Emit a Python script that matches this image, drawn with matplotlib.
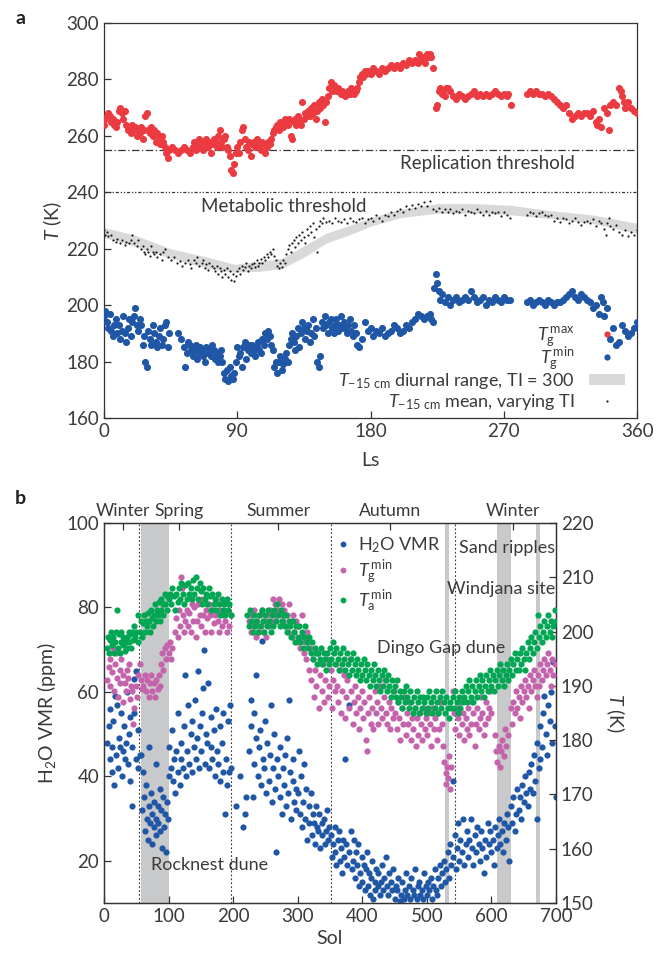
import numpy as np
import matplotlib
matplotlib.use("Agg")
import matplotlib.pyplot as plt
from matplotlib.patches import Patch
from matplotlib.lines import Line2D

plt.rcParams['font.family'] = ['Lato', 'DejaVu Sans']
plt.rcParams['mathtext.fontset'] = 'custom'
plt.rcParams['mathtext.rm'] = 'Lato'
plt.rcParams['mathtext.it'] = 'Lato:italic'
plt.rcParams['mathtext.bf'] = 'Lato:bold'
plt.rcParams['axes.unicode_minus'] = True

TXT = '#3a3a3a'
FS = 13

# ---------------- Panel a data (Ls, T in K) ----------------
tg_max_pts = [
    (0,264),(1,266),(2,267),(3,268),(4,267),(5,265),(6,266),(7,264),(8,263),(9,265),
    (10,269),(11,270),(12,268),(13,266),(14,269),(15,264),(16,262),(17,263),(18,261),(19,264),
    (20,262),(21,263),(22,260),(23,262),(24,261),(25,263),(26,259),(27,262),(28,267),(29,268),
    (30,262),(31,261),(32,263),(33,260),(34,262),(35,258),(36,261),(37,259),(38,257),(39,260),
    (40,258),(41,256),(42,254),(43,252),(44,255),(46,256),(48,255),(50,254),(52,255),(54,256),
    (56,255),(58,254),(60,256),(61,258),(62,255),(63,257),(64,259),(65,256),(66,258),(67,255),
    (68,257),(69,259),(70,256),(71,258),(72,254),(73,257),(74,259),(75,258),(76,256),(77,260),
    (78,262),(79,258),(80,256),(81,259),(82,260),(83,256),(84,255),(85,253),(86,248),(87,247),
    (88,250),(89,254),(90,256),(91,254),(92,258),(93,262),(94,263),(95,259),(96,256),(97,255),
    (98,258),(99,253),(100,257),(101,258),(102,256),(103,259),(104,258),(105,257),(106,255),(107,258),
    (108,257),(109,254),(110,256),(111,258),(112,257),(113,259),(114,261),(115,262),(116,263),(117,264),
    (118,262),(119,265),(120,264),(121,263),(122,266),(123,265),(124,264),(125,266),(126,260),(127,259),
    (128,265),(129,266),(130,264),(131,267),(132,266),(133,264),(134,272),(135,266),(136,268),(137,267),
    (138,269),(139,267),(140,270),(141,268),(142,271),(143,266),(144,269),(145,272),(146,270),(147,273),
    (148,271),(149,265),(150,272),(151,274),(152,277),(153,279),(154,276),(155,278),(156,277),(157,276),
    (158,277),(159,276),(160,275),(161,276),(162,275),(163,274),(164,275),(165,276),(166,275),(167,277),
    (168,276),(169,275),(170,276),(171,277),(172,279),(173,281),(174,282),(175,281),(176,283),(177,282),
    (178,283),(180,282),(182,284),(184,283),(186,282),(188,284),(190,283),(192,284),(194,285),(196,284),
    (198,285),(200,284),(202,286),(204,285),(206,287),(208,286),(210,287),(212,286),(213,289),(214,288),
    (215,287),(216,288),(217,286),(218,289),(219,288),(220,289),(221,288),(222,284),(224,270),(225,271),
    (226,276),(227,277),(228,275),(229,276),(230,274),(231,277),(232,277),(234,276),(236,274),(238,273),
    (240,275),(242,274),(244,273),(246,274),(248,275),(250,276),(252,274),(254,275),(256,274),(258,275),
    (260,274),(262,275),(264,276),(266,275),(268,274),(270,275),(272,274),(273,275),(275,271),(286,275),
    (288,276),(290,275),(292,276),(294,275),(296,275),(298,274),(300,275),(302,274),(304,273),(306,272),
    (308,271),(310,270),(312,271),(314,268),(316,266),(318,267),(320,268),(322,267),(324,268),(326,268),
    (328,267),(330,269),(332,265),(333,264),(334,266),(336,263),(338,270),(340,268),(341,262),(342,271),
    (344,272),(346,271),(348,277),(349,276),(350,274),(351,272),(352,270),(354,272),(356,270),(358,269),(360,268),
]

tg_min_pts = [
    (0,196),(1,198),(2,194),(3,192),(4,197),(5,191),(6,189),(7,193),(8,195),(9,190),
    (10,193),(11,188),(12,191),(13,196),(14,190),(15,187),(16,192),(17,195),(18,189),(19,194),
    (20,196),(21,199),(22,193),(23,191),(24,195),(25,193),(26,186),(27,189),(28,180),(29,178),
    (30,191),(31,188),(32,186),(33,193),(34,190),(35,187),(36,185),(37,189),(38,192),(39,186),
    (40,188),(41,193),(42,194),(43,185),(44,190),(50,190),(52,188),(54,185),(55,178),(56,183),
    (57,187),(58,186),(59,184),(60,182),(61,184),(62,186),(63,181),(64,183),(65,185),(66,184),
    (67,182),(68,180),(69,185),(70,183),(71,184),(72,182),(73,186),(74,184),(75,181),(76,183),
    (77,180),(78,182),(79,184),(80,180),(81,176),(82,174),(83,177),(84,173),(85,178),(86,175),
    (87,174),(88,176),(89,180),(90,185),(91,182),(92,183),(93,178),(94,185),(95,187),(96,181),
    (97,184),(98,186),(99,183),(100,186),(101,184),(102,182),(103,185),(104,187),(105,184),(106,183),
    (107,188),(108,186),(109,190),(110,188),(111,191),(112,189),(113,186),(114,184),(115,178),(116,180),
    (117,176),(118,180),(119,182),(120,177),(121,179),(122,181),(123,183),(124,180),(125,186),(126,188),
    (127,190),(128,187),(129,184),(130,189),(131,192),(132,185),(133,190),(134,194),(135,192),(136,188),
    (137,191),(138,193),(139,187),(140,190),(141,195),(142,189),(143,192),(144,180),(145,178),(146,182),
    (147,194),(148,192),(149,196),(150,193),(151,190),(152,194),(153,195),(154,192),(155,190),(156,193),
    (157,195),(158,191),(159,193),(160,196),(161,192),(162,194),(163,192),(164,190),(165,193),(166,195),
    (167,191),(168,189),(169,193),(170,190),(171,186),(172,185),(174,188),(176,194),(178,191),(180,192),
    (182,189),(184,191),(186,190),(188,192),(190,189),(192,190),(194,191),(196,193),(198,192),(200,190),
    (202,191),(204,193),(206,192),(208,194),(210,195),(212,197),(214,196),(216,195),(218,196),(220,197),
    (221,195),(222,194),(223,206),(224,211),(225,208),(226,205),(227,202),(228,204),(230,201),(232,203),
    (234,200),(236,202),(238,203),(240,201),(242,202),(244,203),(246,202),(248,205),(250,203),(252,201),
    (254,202),(256,203),(258,200),(260,202),(262,201),(264,203),(266,202),(268,201),(270,203),(272,202),
    (274,202),(286,201),(288,202),(290,200),(292,201),(294,202),(296,201),(298,200),(300,202),(302,201),
    (304,200),(306,201),(308,201),(310,202),(312,203),(314,204),(316,205),(318,203),(320,202),(322,204),
    (324,203),(326,202),(328,201),(330,199),(332,200),(334,197),(336,203),(337,201),(338,196),(340,199),
    (342,188),(344,192),(346,186),(348,187),(350,193),(352,191),(354,189),(356,190),(358,192),(360,194),
]

t15_mean_pts = [
    (0,226.5),(1,225),(2,226),(3,224.5),(5,225),(6,223),(8,222.5),(9,223.5),(11,222),(12,223),
    (14,221.5),(15,222.5),(17,222),(18,223),(19,225),(20,222),(22,221),(23,223),(25,220),(26,221),
    (27,219),(28,218),(29,220),(30,219),(31,217.5),(32,221),(33,219),(34,218),(35,219),(36,217),
    (38,218),(39,216),(40,219),(41,220),(43,217),(45,216),(47,217),(49,215),(51,215.5),(53,214),
    (55,215),(57,216),(58,214.5),(59,213),(61,216),(62,215),(63,217),(64,214),(66,215),(67,216),
    (68,213),(69,214.5),(70,212.5),(71,215),(73,214),(74,213),(75,212),(76,214),(77,211),(78,213),
    (79,212),(80,210),(81,212.5),(82,211),(83,213),(84,210),(85,212),(86,209),(87,211),(88,208.5),
    (89,210.5),(90,212),(91,213),(92,211),(93,214),(94,212.5),(95,213.5),(96,215),(97,212),(98,214),
    (99,213),(100,214.5),(101,215),(102,213.5),(103,216),(104,214),(105,215),(106,216.5),(107,215),(108,217),
    (109,216),(110,218),(111,217),(112,219),(113,218),(114,220),(115,217.5),(116,216),(117,214),(118,213),
    (119,215),(120,213.5),(121,216),(122,215),(123,218),(124,220),(125,221.5),(126,219),(127,222),(128,223),
    (129,220.5),(130,224),(131,222),(132,225),(133,223),(134,226),(135,224),(136,222),(137,227),(138,225),
    (139,228),(140,226),(141,229),(142,224),(143,227),(144,219),(145,228),(146,230),(147,229),(148,231),
    (150,229.5),(152,230),(154,229),(156,231),(158,230),(160,229.5),(162,230.5),(164,229),(166,231),(168,230),
    (170,229.5),(172,230.5),(174,231),(176,229),(178,230.5),(180,231),(182,230),(184,232),(186,231),(188,230),
    (190,232),(192,231.5),(194,233),(196,232),(198,233.5),(200,234),(202,233),(204,235),(206,234),(208,235.5),
    (210,234.5),(212,236),(214,235),(216,236.5),(218,235),(220,237),(222,234),(224,233.5),(226,234.5),(228,233),
    (230,234),(232,233),(234,234),(236,232.5),(238,233.5),(240,233),(242,234),(244,232),(246,233.5),(248,233),
    (250,232.5),(252,234),(254,233),(256,232),(258,233.5),(260,232),(262,233),(264,232.5),(266,233),(268,231.5),
    (270,233),(272,232),(274,231),(286,232),(288,233),(290,232.5),(292,231.5),(294,232.5),(296,233),(298,232),
    (300,231.5),(302,232),(304,230),(306,231),(308,229.5),(310,231),(312,230.5),(314,229),(316,230),(318,231),
    (320,229.5),(322,228.5),(324,229.5),(326,230),(328,229),(330,230.5),(332,228),(334,230),(336,229),(338,227),
    (339,225),(340,229),(341,231),(342,228),(344,227),(346,228.5),(348,226),(350,225),(352,226.5),(354,224.5),
    (356,226),(358,225),(360,226.5),
]

# diurnal range band (Ls, lower, upper)
band_ls = [0, 20, 45, 70, 88, 105, 120, 135, 150, 170, 180, 200, 225, 250, 275, 300, 330, 360]
band_lo = [224, 221, 216.6, 213, 211.7, 212, 213, 217, 222, 225.8, 228, 231, 232.6, 232.6, 232, 230.8, 229, 225.5]
band_hi = [227.5, 225, 220, 217, 214.5, 215.5, 216.6, 221, 225.5, 229, 231, 234, 236, 236, 235.4, 233.6, 232, 229]

# ---------------- Panel b data (Sol) ----------------
h2o_pts = [
    (5,48),(7,52),(9,44),(10,56),(12,47),(13,41),(14,53),(16,38),(17,59),(19,45),(20,57),(22,42),(23,49),
    (25,47),(26,55),(28,40),(29,46),(31,52),(32,44),(34,48),(35,60),(37,43),(38,50),(40,54),(41,39),(43,33),
    (44,47),(46,55),(47,63),(49,44),(50,65),(52,51),(53,42),(55,45),
    (57,45),(59,32),(60,41),(62,35),(63,27),(65,38),(66,30),(68,25),(69,33),(70,47),(71,29),(72,36),(74,31),
    (75,24),(77,28),(78,34),(80,30),(80,43),(81,26),(83,33),(84,29),(86,37),(87,27),(89,32),(90,23),(92,35),
    (93,28),(95,31),(96,22),(98,34),(99,30),(100,40),
    (101,47),(103,42),(105,51),(107,39),(108,44),(110,36),(112,46),(114,41),(115,55),(117,38),(119,44),
    (120,48),(122,42),(124,52),(125,64),(127,40),(129,46),(130,57),(132,43),(134,50),(136,41),(137,53),
    (139,47),(141,58),(142,44),(144,49),(145,65),(147,42),(149,52),(150,46),(152,55),(153,61),(155,70),
    (156,43),(158,50),(160,48),(161,62),(163,42),(165,54),(166,47),(168,44),(170,51),(172,40),(173,56),
    (175,46),(177,43),(179,52),(180,39),(182,48),(184,55),(185,41),(187,31),(189,44),(190,38),(192,53),
    (194,41),(195,57),(197,42),
    (205,33),(210,40),(215,28),(218,31),(220,35),
    (225,46),(227,58),(228,52),(230,35),(232,55),(233,43),(235,64),(236,49),(238,40),(240,47),(242,51),
    (243,38),(245,72),(246,44),(248,42),(250,53),(251,36),(253,48),(255,39),(257,45),(258,57),(260,34),
    (262,42),(263,50),(265,37),(267,22),(268,44),(270,40),(272,35),(273,47),(275,31),(277,42),(278,38),
    (280,45),(282,33),(283,49),(285,36),(287,58),(288,41),(290,30),(292,39),(293,44),(295,34),(297,37),(298,32),
    (300,36),(302,46),(303,31),(305,40),(307,28),(308,34),(310,43),(312,30),(313,37),(315,25),(317,33),
    (318,29),(320,36),(322,26),(323,31),(325,29),(327,24),(328,33),(330,28),(332,27),(333,31),(335,23),
    (337,29),(338,26),(340,30),(342,24),(344,27),(345,32),(347,25),(349,28),
    (351,26),(353,21),(355,24),(357,28),(358,22),(360,19),(362,25),(364,27),(365,20),(367,23),(369,17),
    (370,25),(372,21),(374,44),(375,24),(377,19),(379,57),(380,22),(382,27),(384,18),(385,20),(387,25),
    (389,16),(390,22),(392,19),(394,24),(395,14),(397,17),(399,21),(400,15),(402,19),(404,13),(405,18),
    (407,22),(409,14),(410,17),(412,12),(414,16),(415,20),(417,11),(419,15),(420,13),(422,18),(424,14),
    (425,17),(427,12),(429,15),(430,19),(432,13),(434,16),(436,21),(438,14),(440,12),(442,17),(444,15),
    (446,13),(448,18),
    (450,11),(452,14),(454,13),(456,16),(458,10.5),(460,12),(462,15),(464,11),(466,13),(468,17),(470,12),
    (472,14),(474,11),(476,16),(478,13),(480,12),(482,18),(484,11),(486,14),(488,15),(490,12),(492,13),
    (494,11),(496,17),(498,14),(500,12),(502,15),(504,13),(506,16),(508,11),(510,14),(512,18),(514,13),
    (516,12),(518,16),(520,19),(522,14),(524,17),(526,20),(528,15),
    (530,18),(532,22),(534,16),(536,24),(538,19),(540,39),(541,21),(543,26),(545,18),(547,23),(549,29),
    (550,20),(552,25),(554,22),(556,30),(558,19),(560,24),(562,27),(564,21),(566,25),(568,30),(570,23),
    (572,19),(574,26),(576,22),(578,28),(580,24),(582,20),(584,27),(586,23),(588,17),(590,25),(592,21),
    (594,29),(596,24),(598,27),(600,22),(602,25),(604,19),(606,28),(608,23),(610,26),(612,30),(614,24),
    (616,27),(618,22),(620,29),
    (622,25),(624,31),(626,28),(628,20),(630,33),(632,29),(634,35),(636,27),(638,31),(640,37),(642,32),
    (644,35),(646,30),(648,38),(650,34),(652,40),(654,36),(656,33),(658,41),(660,37),(662,43),(664,36),
    (666,45),(668,39),(670,48),(671,30),(673,42),(675,52),(676,44),(678,47),(680,55),(682,59),(684,50),
    (686,45),(688,57),(690,53),(692,60),(694,48),(696,67),(698,52),(700,35),
]

tgmin_b_pts = [
    (5,191),(7,193.5),(9,190),(10,195),(12,192.5),(14,197),(15,189),(17,194),(19,196),(20,191.5),(22,188),
    (24,193),(25,190.5),(27,195),(29,192),(30,187),(32,190.5),(34,189),(35,193),(37,191.5),(39,194),(40,187.5),
    (42,190),(44,189),(45,183),(47,186),(49,190),(51,188),(53,192),
    (55,194),(57,191),(59,189.5),(61,190),(63,192),(65,189),(67,191),(69,188),(71,190.5),(73,192),(75,189),
    (77,190.5),(79,188),(81,191),(83,189.5),(85,192),(87,190),(89,194),(90,196),(92,193),(94,197),(96,195),
    (98,197.5),(100,196),(102,198),(104,195),(106,197),
    (110,200),(112,202.5),(114,199),(116,204),(118,201),(120,210),(121,208),(122,203),(124,200),(126,202),
    (128,204),(130,201),(132,203.5),(134,200),(136,205),(138,202),(140,204.5),(142,199),(144,202),(146,205),
    (148,203),(150,201),(152,206),(154,203),(156,200),(158,204),(160,202.5),(162,205),(164,203),(166,200),
    (168,204),(170,201.5),(172,203),(174,206),(176,202),(178,200),(180,204),(182,201),(184,203),(186,205),
    (188,202),(190,200),(192,204),(194,201),(196,203),
    (225,202),(227,200),(229,203),(231,201),(233,204),(235,199),(237,202),(239,200),(241,203),(243,201),
    (245,204),(247,200),(249,202),(251,199),(253,203),(255,201),(257,204),(259,202),(261,206),(263,203),
    (265,205),(267,202),(269,204),(271,206),(273,203),(275,205),(277,202),(279,204),(281,201),(283,203),
    (285,200),(287,205),(289,202),(291,199),(293,203),(295,200),(297,202),(299,198),
    (301,201),(303,197),(305,199),(307,203),(309,196),(311,198),(313,195),(315,200),(317,193),(319,197),
    (321,191),(323,195),(325,188),(327,193),(329,190),(331,196),(333,186),(335,192),(337,189),(339,194),
    (341,187),(343,191),(345,195),(347,188),(349,190),(351,193),(353,186),(355,191),(357,189),(359,194),
    (361,190),(363,187),(365,193),(367,185),(369,189),(371,192),(373,184),(375,188),(377,191),(379,186),
    (381,195),(383,189),(385,183),(387,187),(389,190),(391,185),(393,188),(395,182),(397,186),(399,189),
    (401,184),(403,187),(405,180),(407,178),(409,185),(411,188),(413,183),(415,186),(417,182),(419,189),
    (421,185),(423,187),(425,183),(427,190),(429,186),(431,184),(433,188),(435,191),(437,185),(439,183),
    (441,187),(443,182),(445,186),(447,184),(449,189),
    (451,185),(453,182),(455,187),(457,184),(459,180),(461,186),(463,183),(465,188),(467,181),(469,185),
    (471,183),(473,187),(475,180),(477,184),(479,182),(481,186),(483,179),(485,184),(487,181),(489,185),
    (491,183),(493,180),(495,186),(497,182),(499,184),(501,181),(503,185),(505,183),(507,179),(509,186),
    (511,182),(513,184),(515,180),(517,185),(519,182),(521,187),(523,183),(525,179),
    (527,176),(529,174),(530,172),(531,175),(533,173),(534,177),(536,171),(538,175),
    (540,189),(542,185),(544,182),(546,186),(548,184),(550,181),(552,187),(554,183),(556,185),(558,180),
    (560,184),(562,182),(564,186),(566,181),(568,183),(570,187),(572,185),(574,179),(576,183),(578,186),
    (580,182),(582,184),(584,188),(586,185),(588,181),(590,183),(592,187),(594,184),(596,186),(598,189),(600,185),
    (605,181),(607,178),(609,176),(611,179),(613,175),(615,178),(617,180),(619,177),(621,182),(623,179),(625,181),
    (630,186),(632,183),(634,187),(636,185),(638,189),(640,186),(642,188),(644,184),(646,190),(648,187),
    (650,189),(652,191),(654,188),(656,190),(658,186),(660,192),(662,189),(664,191),(666,193),(668,190),
    (670,188),(672,192),(674,190),(676,194),(678,191),(680,193),(682,195),(684,192),(686,194),(688,196),
    (690,193),(692,190),(694,195),(696,192),(698,194),
]

tamin_b_pts = [
    (5,197),(6,199),(8,196),(9,198.5),(11,200),(12,197.5),(14,199),(15,196),(17,198),(18,200),(20,204),
    (21,197),(23,199.5),(24,196),(26,198),(27,200),(29,197.5),(30,199),(32,198),(33,196.5),(35,199),(36,197),
    (38,200),(39,198),(41,199.5),(42,197),(44,200),(45,198.5),(47,201),(48,199),(50,200),(52,203),(53,198),
    (56,200),(58,202),(59,199),(61,201.5),(62,203),(64,200),(65,202),(67,201),(68,203.5),(70,202),(71,200),
    (73,204),(74,202.5),(76,201),(77,203),(79,205),(80,202),(82,204),(83,203),(85,205.5),(86,202),(88,204),
    (89,206),(91,205),(92,203),(94,207),(95,205),(97,206.5),(98,204),(100,206),
    (102,207),(104,205),(106,208),(108,206.5),(110,204),(112,207),(114,205.5),(116,208),(118,206),(120,209),
    (122,207),(124,205),(126,208.5),(128,206),(130,209),(132,207),(134,208),(136,206),(138,209.5),(140,207),
    (142,210),(144,208),(146,206),(148,209),(150,207.5),(152,205),(154,208),(156,206),(158,207),(160,205),
    (162,208),(164,206.5),(166,204),(168,207),(170,205),(172,206),(174,204),(176,207),(178,205),(180,203),
    (182,206),(184,204),(186,205),(188,203),(190,206),(192,204),(194,205),(196,203),
    (222,203),(224,201),(226,204),(228,202),(230,200),(232,203),(234,201),(236,202),(238,200),(240,203),
    (242,201),(244,204),(246,202),(248,200),(250,203),(252,201),(254,204),(256,202),(258,200),(260,203),
    (262,201),(264,204),(266,202),(268,205),(270,203),(272,201),(274,204),(276,202),(278,203),(280,201),
    (282,203),(284,200),(286,202),(288,201),(290,199),(292,202),(294,200),(296,198),(298,201),
    (300,199),(302,201),(304,198),(306,200),(308,197),(310,199),(312,201),(314,198),(316,197),(318,199),
    (320,196),(322,198),(324,195),(326,197),(328,196),(330,194),(332,196),(334,195),(336,197),(338,194),
    (340,196),(342,195),(344,193),(346,196),(348,194),(350,197),(352,195),(354,198),(356,196),(358,194),
    (360,197),(362,195),(364,193),(366,196),(368,194),(370,197),(372,195),(374,193),(376,196),(378,194),
    (380,192),(382,195),(384,193),(386,196),(388,194),(390,192),(392,195),(394,193),(396,191),(398,194),
    (400,192),(402,195),(404,193),(406,191),(408,194),(410,192),(412,190),(414,193),(416,191),(418,194),
    (420,192),(422,190),(424,193),(426,191),(428,189),(430,192),(432,190),(434,193),(436,191),(438,189),
    (440,192),(442,190),(444,188),(446,191),(448,189),
    (450,190),(452,188),(454,191),(456,187),(458,189),(460,188),(462,186),(464,189),(466,187),(468,190),
    (470,188),(472,186),(474,189),(476,187),(478,185),(480,188),(482,186),(484,189),(486,187),(488,185),
    (490,188),(492,186),(494,188),(496,187),(498,185),(500,188),(502,186),(504,189),(506,187),(508,185),
    (510,188),(512,186),(514,189),(516,187),(518,185),(520,188),(522,186),(524,189),(526,187),(528,185),
    (530,188),(532,186),(534,184),(536,187),(538,186),(540,188),(542,186),(544,189),(546,187),(548,185),
    (550,188),(552,186),(554,189),(556,187),(558,188),
    (560,190),(562,187),(564,189),(566,191),(568,188),(570,190),(572,187),(574,189),(576,191),(578,188),
    (580,190),(582,192),(584,189),(586,191),(588,188),(590,190),(592,192),(594,189),(596,191),(598,193),
    (600,190),(602,192),(604,189),(606,191),(608,193),(610,190),(612,192),(614,194),(616,191),(618,193),
    (620,190),(622,192),(624,194),(626,191),(628,193),(630,195),(632,192),(634,194),(636,196),(638,193),
    (640,195),(642,193),(644,196),(646,194),(648,197),(650,195),(652,193),(654,196),(656,198),(658,195),
    (660,197),(662,199),(664,196),(666,198),(668,200),(670,197),(672,203),(674,199),(676,201),(678,198),
    (680,200),(682,202),(684,199),(686,201),(688,203),(690,200),(692,202),(694,199),(696,201),(698,204),(700,202),
]

season_sols = [30, 116.5, 270, 443, 633]
season_names = ['Winter', 'Spring', 'Summer', 'Autumn', 'Winter']
season_lines = [54, 197, 351, 543]
shade_spans = [(57, 101), (528, 535), (609, 630), (669, 675)]

# ---------------- Figure ----------------
fig = plt.figure(figsize=(6.6, 9.57), dpi=100)

ax1 = fig.add_axes([0.1576, 0.5632, 0.8076, 0.4127])
ax2 = fig.add_axes([0.1576, 0.0564, 0.6848, 0.3971])

def style(ax):
    for s in ax.spines.values():
        s.set_color('#333333')
        s.set_linewidth(0.9)
    ax.tick_params(direction='in', length=5, width=0.9, labelsize=FS + 0.5,
                   colors='#333333', labelcolor=TXT)

# ---- Panel a ----
style(ax1)
ax1.fill_between(band_ls, band_lo, band_hi, color='#d9d9d9', lw=0, zorder=1)
mx, my = np.array(t15_mean_pts).T
ax1.scatter(mx, my, s=2.5, color='#1a1a1a', lw=0, zorder=2)
rx, ry = np.array(tg_max_pts).T
ax1.scatter(rx, ry, s=26, color='#ec3b40', lw=0, zorder=3)
bx, by = np.array(tg_min_pts).T
ax1.scatter(bx, by, s=26, color='#1f56a5', lw=0, zorder=3)
ax1.axhline(255, color='#333333', lw=0.9, ls=(0, (6, 2, 1, 2)), zorder=2)
ax1.axhline(240, color='#333333', lw=0.9, ls=(0, (2.5, 1.5, 1, 1.5, 1, 1.5)), zorder=2)
ax1.text(318, 250.3, 'Replication threshold', ha='right', va='center', fontsize=FS + 0.5, color=TXT)
ax1.text(177, 235.0, 'Metabolic threshold', ha='right', va='center', fontsize=FS + 0.5, color=TXT)
ax1.set_xlim(0, 360)
ax1.set_ylim(160, 300)
ax1.set_xticks([0, 90, 180, 270, 360])
ax1.set_yticks([160, 180, 200, 220, 240, 260, 280, 300])
ax1.set_xlabel('Ls', fontsize=14, color=TXT, labelpad=9)
ax1.set_ylabel('$T$ (K)', fontsize=14, color=TXT, labelpad=2)

# legend rows (one legend per row so each row sits where the reference has it)
leg_handles = [
    Line2D([], [], ls='none', marker='o', ms=4.5, color='#ec3b40', mec='none'),
    Line2D([], [], ls='none', marker='o', ms=4.5, color='#1f56a5', mec='none'),
    Patch(facecolor='#d9d9d9', edgecolor='none'),
    Line2D([], [], ls='none', marker='o', ms=1.6, color='#1a1a1a', mec='none'),
]
leg_labels = [r'$T_{\mathrm{g}}^{\,\mathrm{max}}$', r'$T_{\mathrm{g}}^{\,\mathrm{min}}$',
              r'$T_{-15\ \mathrm{cm}}$ diurnal range, TI = 300',
              r'$T_{-15\ \mathrm{cm}}$ mean, varying TI']
leg_rows_y = [0.205, 0.150, 0.094, 0.040]
for i, (h, l, yy) in enumerate(zip(leg_handles, leg_labels, leg_rows_y)):
    lg = ax1.legend([h], [l], loc='center right', bbox_to_anchor=(0.978, yy),
                    frameon=False, markerfirst=False, fontsize=FS, handlelength=2.0,
                    handleheight=0.5, handletextpad=0.8, borderpad=0, borderaxespad=0)
    for t in lg.get_texts():
        t.set_color(TXT)
    if i < len(leg_handles) - 1:
        ax1.add_artist(lg)

# ---- Panel b ----
style(ax2)
for x0, x1 in shade_spans:
    ax2.axvspan(x0, x1, color='#c8c9cb', lw=0, zorder=0)
for xv in season_lines:
    ax2.axvline(xv, color='#333333', lw=0.8, ls=(0, (1.5, 2)), zorder=0.5)
hx, hy = np.array(h2o_pts).T
ax2.scatter(hx, hy, s=20, color='#1f56a5', lw=0, zorder=2)
ax2.set_xlim(0, 700)
ax2.set_ylim(10, 100)
ax2.set_xticks([0, 100, 200, 300, 400, 500, 600, 700])
ax2.set_yticks([20, 40, 60, 80, 100])
ax2.set_xlabel('Sol', fontsize=14, color=TXT, labelpad=4)
ax2.set_ylabel('H$_2$O VMR (ppm)', fontsize=14, color=TXT, labelpad=6)
ax2.tick_params(top=False)

ax2t = ax2.twinx()
style(ax2t)
gx, gy = np.array(tgmin_b_pts).T
ax2t.scatter(gx, gy, s=20, color='#c462ab', lw=0, zorder=3)
ax_, ay_ = np.array(tamin_b_pts).T
ax2t.scatter(ax_, ay_, s=20, color='#00a651', lw=0, zorder=4)
ax2t.set_ylim(150, 220)
ax2t.set_yticks([150, 160, 170, 180, 190, 200, 210, 220])
ax2t.set_ylabel('$T$ (K)', fontsize=14, color=TXT, rotation=270, labelpad=24)

sec = ax2.secondary_xaxis('top')
sec.set_xticks(season_sols, labels=season_names)
sec.tick_params(direction='in', length=5, width=0.9, labelsize=FS - 0.3,
                colors='#333333', labelcolor=TXT, pad=3)
sec.spines['top'].set_visible(False)

ax2.text(699, 94.0, 'Sand ripples', ha='right', va='center', fontsize=FS, color=TXT, zorder=6)
ax2.text(699, 84.4, 'Windjana site', ha='right', va='center', fontsize=FS, color=TXT, zorder=6)
ax2.text(622, 70.4, 'Dingo Gap dune', ha='right', va='center', fontsize=FS, color=TXT, zorder=6)
ax2.text(72, 19.0, 'Rocknest dune', ha='left', va='center', fontsize=FS, color=TXT, zorder=6)

h_b = [
    Line2D([], [], ls='none', marker='o', ms=4.2, color='#1f56a5', mec='none'),
    Line2D([], [], ls='none', marker='o', ms=4.2, color='#c462ab', mec='none'),
    Line2D([], [], ls='none', marker='o', ms=4.2, color='#00a651', mec='none'),
]
l_b = ['H$_2$O VMR', r'$T_{\mathrm{g}}^{\,\mathrm{min}}$', r'$T_{\mathrm{a}}^{\,\mathrm{min}}$']
leg_b = ax2t.legend(h_b, l_b, loc='upper left', bbox_to_anchor=(0.48, 1.005),
                    frameon=False, fontsize=FS, handlelength=0.8, handletextpad=0.45,
                    labelspacing=0.15, borderpad=0.3)
for t in leg_b.get_texts():
    t.set_color(TXT)

fig.text(15 / 660, 1 - 18 / 957, 'a', fontsize=14, fontweight='bold', color='#222222', va='center')
fig.text(15 / 660, 1 - 498 / 957, 'b', fontsize=14, fontweight='bold', color='#222222', va='center')

fig.savefig('out.png', dpi=100)
